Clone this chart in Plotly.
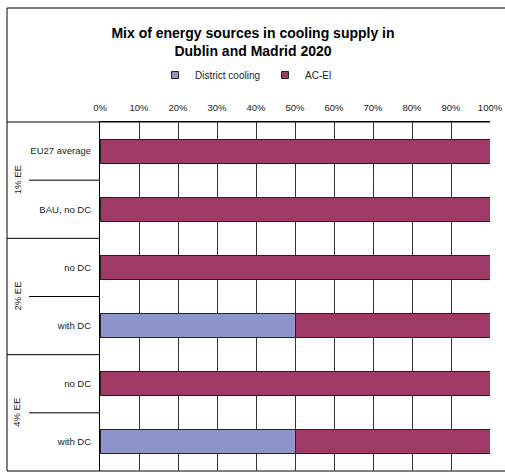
import plotly.graph_objects as go

# Scenario rows (top to bottom) and their efficiency groups
groups = ["1% EE", "1% EE", "2% EE", "2% EE", "4% EE", "4% EE"]
scenarios = ["EU27 average", "BAU, no DC", "no DC", "with DC", "no DC", "with DC"]

# Share of cooling supply (%)
district_cooling = [0, 0, 0, 50, 0, 50]
ac_el = [100, 100, 100, 50, 100, 50]

x_ticks = [0, 10, 20, 30, 40, 50, 60, 70, 80, 90, 100]

C_DC = "#8C94C9"
C_AC = "#9F3A66"
FONT = "Liberation Sans, Arial, sans-serif"
INK = "#222222"

rows = list(range(len(scenarios)))

fig = go.Figure()
for name, vals, col in [("District cooling", district_cooling, C_DC), ("AC-El", ac_el, C_AC)]:
    fig.add_trace(go.Bar(
        y=rows, x=vals, orientation="h", name=name, width=0.41,
        marker=dict(color=col, line=dict(color=INK, width=1)),
        showlegend=False,
    ))
    # small square legend key
    fig.add_trace(go.Scatter(
        x=[None], y=[None], mode="markers", name=name,
        marker=dict(symbol="square", size=7, color=col, line=dict(color=INK, width=1)),
    ))

# plot-area geometry (pixels) used for placing labels outside the axes
L, R, T, B, W, H = 100, 15, 122, 1, 505, 472
pw = W - L - R
ph = H - T - B
def px_x(p):
    return (p - L) / pw
def px_y(p):
    return (H - B - p) / ph

shapes = []
# outer frame
shapes.append(dict(type="rect", xref="paper", yref="paper",
                   x0=px_x(7), x1=px_x(520), y0=0, y1=px_y(8),
                   line=dict(color="black", width=1), layer="below"))
# line along the top of the plot area, extended through the label column
shapes.append(dict(type="line", xref="paper", yref="paper",
                   x0=px_x(7), x1=1, y0=1, y1=1, line=dict(color="black", width=1)))

annotations = []
seen = []
for g in groups:
    if g not in seen:
        seen.append(g)
for gi, g in enumerate(seen):
    idx = [i for i, gg in enumerate(groups) if gg == g]
    mid = (idx[0] + idx[-1]) / 2
    annotations.append(dict(
        x=px_x(17), xref="paper", y=mid, yref="y", text=g, textangle=-90,
        showarrow=False, xanchor="center", yanchor="middle",
        font=dict(family=FONT, size=9.5, color=INK)))
    # divider after the group
    if idx[-1] < len(groups) - 1:
        shapes.append(dict(type="line", xref="paper", yref="y",
                           x0=px_x(7), x1=0, y0=idx[-1] + 0.5, y1=idx[-1] + 0.5,
                           line=dict(color="black", width=1)))
    # short divider between rows inside the group
    for a, b in zip(idx[:-1], idx[1:]):
        shapes.append(dict(type="line", xref="paper", yref="y",
                           x0=px_x(29), x1=0, y0=(a + b) / 2, y1=(a + b) / 2,
                           line=dict(color="black", width=1)))

fig.update_layout(
    width=W, height=H,
    margin=dict(l=L, r=R, t=T, b=B),
    paper_bgcolor="white", plot_bgcolor="white",
    barmode="stack",
    font=dict(family=FONT, size=9, color=INK),
    title=dict(
        text="<b>Mix of energy sources in cooling supply in<br>Dublin and Madrid 2020</b>",
        x=253 / W, xanchor="center", xref="container",
        y=1 - 38 / H, yanchor="middle", yref="container",
        font=dict(family=FONT, size=14, color="black"),
    ),
    legend=dict(
        orientation="h", traceorder="normal",
        x=246 / W, xanchor="center", xref="container",
        y=1 - 75 / H, yanchor="middle", yref="container",
        font=dict(family=FONT, size=10, color=INK),
        bgcolor="rgba(0,0,0,0)", itemwidth=30,
    ),
    xaxis=dict(
        side="top", range=[0, 100], tickvals=x_ticks,
        ticktext=[f"{v}%" for v in x_ticks],
        showgrid=True, gridcolor="#333333", gridwidth=1,
        showline=True, linecolor="black", linewidth=1,
        zeroline=False, ticks="", ticklabelstandoff=6,
        tickfont=dict(family=FONT, size=9.5, color=INK),
        fixedrange=True,
    ),
    yaxis=dict(
        range=[len(rows) - 0.5, -0.5], tickvals=rows, ticktext=scenarios,
        showgrid=False, zeroline=False,
        showline=True, linecolor="black", linewidth=1,
        ticks="", ticklabelstandoff=6,
        tickfont=dict(family=FONT, size=9.5, color=INK),
        fixedrange=True,
    ),
    shapes=shapes,
    annotations=annotations,
)

fig.write_html("out.html")
